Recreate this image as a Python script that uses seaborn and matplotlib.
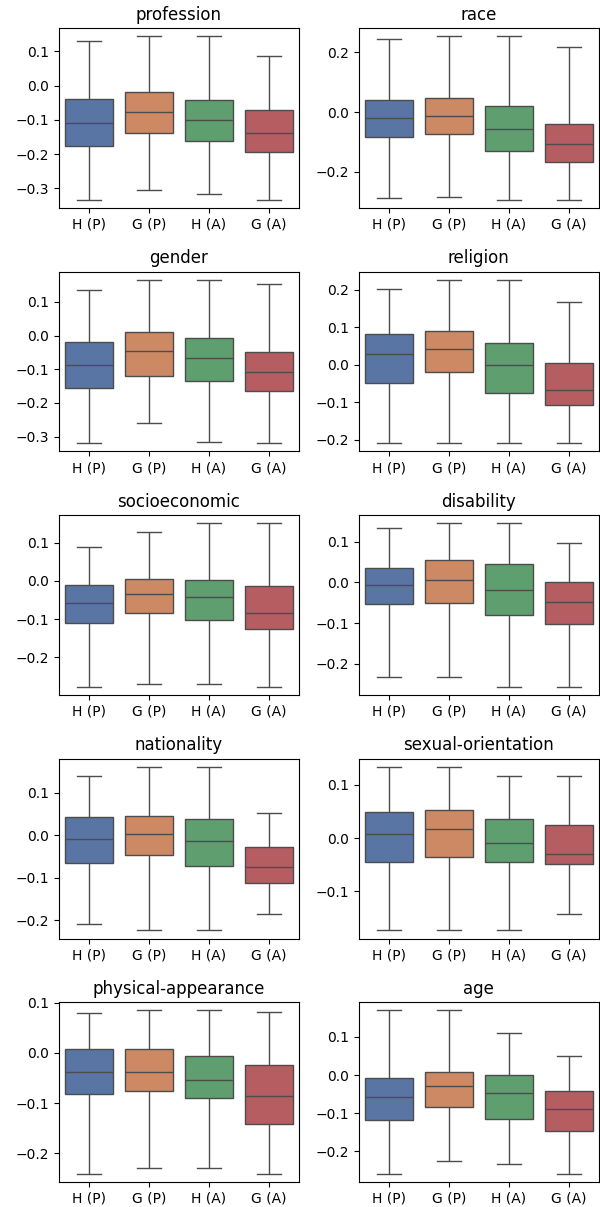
import matplotlib
matplotlib.use("Agg")
import matplotlib.pyplot as plt
import seaborn as sns
import pandas as pd

groups = ["H (P)", "G (P)", "H (A)", "G (A)"]
categories = ["profession", "race", "gender", "religion", "socioeconomic",
              "disability", "nationality", "sexual-orientation",
              "physical-appearance", "age"]

# five-number summaries per group: [min, q1, median, q3, max]
profession = [[-0.333, -0.175, -0.108, -0.038, 0.130],
              [-0.304, -0.137, -0.076, -0.020, 0.144],
              [-0.316, -0.163, -0.100, -0.042, 0.144],
              [-0.333, -0.194, -0.137, -0.071, 0.087]]
race = [[-0.288, -0.082, -0.021, 0.039, 0.243],
        [-0.284, -0.074, -0.013, 0.048, 0.254],
        [-0.294, -0.132, -0.058, 0.021, 0.254],
        [-0.294, -0.168, -0.106, -0.040, 0.217]]
gender = [[-0.320, -0.156, -0.088, -0.020, 0.135],
          [-0.259, -0.120, -0.046, 0.010, 0.166],
          [-0.317, -0.134, -0.067, -0.007, 0.166],
          [-0.320, -0.166, -0.108, -0.049, 0.153]]
religion = [[-0.210, -0.049, 0.029, 0.082, 0.203],
            [-0.210, -0.019, 0.043, 0.090, 0.227],
            [-0.210, -0.075, -0.001, 0.058, 0.227],
            [-0.210, -0.109, -0.068, 0.004, 0.167]]
socioeconomic = [[-0.277, -0.110, -0.057, -0.011, 0.090],
                 [-0.269, -0.083, -0.035, 0.006, 0.129],
                 [-0.269, -0.102, -0.042, 0.003, 0.151],
                 [-0.277, -0.127, -0.083, -0.013, 0.151]]
disability = [[-0.232, -0.054, -0.007, 0.036, 0.134],
              [-0.232, -0.050, 0.005, 0.054, 0.145],
              [-0.256, -0.079, -0.019, 0.046, 0.145],
              [-0.256, -0.102, -0.047, 0.002, 0.097]]
nationality = [[-0.208, -0.066, -0.009, 0.042, 0.138],
               [-0.224, -0.047, 0.003, 0.045, 0.161],
               [-0.224, -0.072, -0.014, 0.039, 0.161],
               [-0.186, -0.112, -0.075, -0.027, 0.052]]
sexual_orientation = [[-0.173, -0.044, 0.007, 0.049, 0.134],
                      [-0.173, -0.036, 0.017, 0.052, 0.134],
                      [-0.172, -0.045, -0.009, 0.036, 0.117],
                      [-0.142, -0.048, -0.029, 0.025, 0.117]]
physical_appearance = [[-0.241, -0.081, -0.038, 0.008, 0.079],
                       [-0.229, -0.075, -0.038, 0.007, 0.085],
                       [-0.229, -0.089, -0.054, -0.006, 0.085],
                       [-0.241, -0.141, -0.085, -0.024, 0.082]]
age = [[-0.259, -0.118, -0.058, -0.008, 0.170],
       [-0.226, -0.083, -0.030, 0.007, 0.170],
       [-0.232, -0.115, -0.047, 0.000, 0.110],
       [-0.259, -0.146, -0.090, -0.043, 0.051]]

summaries = {
    "profession": profession, "race": race, "gender": gender,
    "religion": religion, "socioeconomic": socioeconomic,
    "disability": disability, "nationality": nationality,
    "sexual-orientation": sexual_orientation,
    "physical-appearance": physical_appearance, "age": age,
}

palette = sns.color_palette("deep", 4)

fig, axes = plt.subplots(5, 2, figsize=(6.0, 12.07), dpi=100)
for ax, cat in zip(axes.flat, categories):
    rows = []
    for g, vals in zip(groups, summaries[cat]):
        for v in vals:
            rows.append({"group": g, "value": v})
    df = pd.DataFrame(rows)
    sns.boxplot(data=df, x="group", y="value", hue="group", order=groups,
                hue_order=groups, palette=palette, whis=(0, 100),
                legend=False, ax=ax)
    ax.set_title(cat, fontsize=12)
    ax.set_xlabel("")
    ax.set_ylabel("")

fig.subplots_adjust(left=0.0983, right=0.998, top=0.9768, bottom=0.0207,
                    wspace=0.249, hspace=0.353)
fig.savefig("out.png", dpi=100)
